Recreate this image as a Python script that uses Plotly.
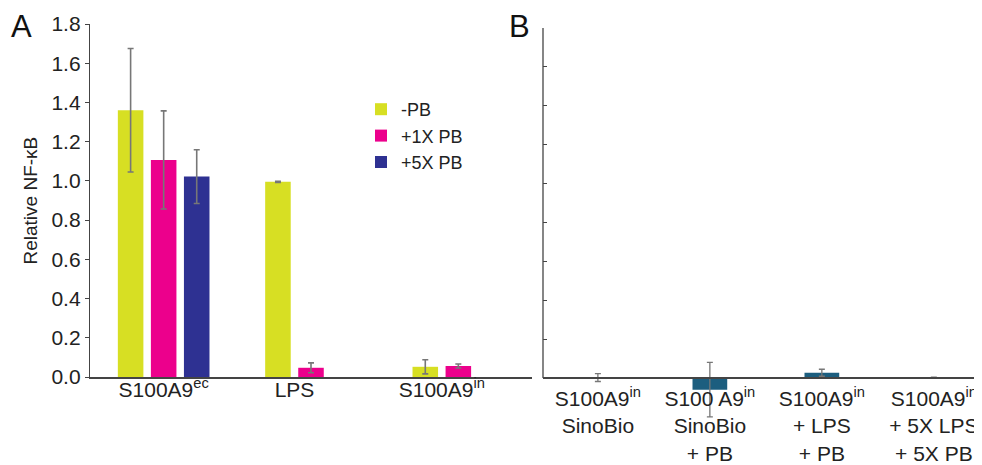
import plotly.graph_objects as go

# ---------------- data ----------------
groups_a = ["S100A9<sup>ec</sup>", "LPS", "S100A9<sup>in</sup>"]
series_names = ["-PB", "+1X PB", "+5X PB"]
minus_pb = [1.36, 0.995, 0.052]
minus_pb_err = [0.315, 0.003, 0.036]
pb_1x = [1.107, 0.047, 0.056]
pb_1x_err = [0.25, 0.025, 0.01]
pb_5x = [1.022, None, None]
pb_5x_err = [0.137, None, None]

cats_b = ["S100A9<sup>in</sup><br>SinoBio",
          "S100 A9<sup>in</sup><br>SinoBio<br>+ PB",
          "S100A9<sup>in</sup><br>+ LPS<br>+ PB",
          "S100A9<sup>in</sup><br>+ 5X LPS<br>+ 5X PB"]
vals_b = [0.002, -0.06, 0.027, 0.001]
errs_b = [0.02, 0.14, 0.018, 0.003]

y_ticks = [0.0, 0.2, 0.4, 0.6, 0.8, 1.0, 1.2, 1.4, 1.6, 1.8]

# ---------------- styles ----------------
colors = ["#d7df23", "#ec008c", "#2e3192"]
color_b = "#1c5e7f"
err_color = "#777777"
axis_color = "#444444"
FONT = "Liberation Sans"
txt = "#222222"

BARGAP = 0.327
BARGROUPGAP = 0.227

series = [(minus_pb, minus_pb_err), (pb_1x, pb_1x_err), (pb_5x, pb_5x_err)]
n = len(series)
slot = (1 - BARGAP) / n
offsets = [(k - (n - 1) / 2) * slot for k in range(n)]
x_idx = list(range(len(groups_a)))
# label sits at the centre of the bars that are present in each group
tickvals_a = []
for g in x_idx:
    present = [offsets[k] for k in range(n) if series[k][0][g] is not None]
    tickvals_a.append(g + sum(present) / len(present))

fig = go.Figure()
for k, (vals, errs) in enumerate(series):
    fig.add_trace(go.Bar(
        x=x_idx, y=vals, name=series_names[k],
        marker=dict(color=colors[k], line=dict(width=0)),
        error_y=dict(type="data", array=errs, visible=True,
                     color=err_color, thickness=1.6, width=3),
        xaxis="x", yaxis="y", showlegend=True))

fig.add_trace(go.Bar(
    x=cats_b, y=vals_b, width=0.31,
    marker=dict(color=color_b, line=dict(width=0)),
    error_y=dict(type="data", array=errs_b, visible=True,
                 color=err_color, thickness=1.3, width=3),
    xaxis="x2", yaxis="y2", showlegend=False))

# page body has an 8px margin: figure starts at (8, 8) in the screenshot
OX, OY = 8, 8
W, H = 982 - OX, 465 - OY
mt, mb, ml, mr = 12, 20, 82, 0
ph = H - mt - mb
pw = W - ml - mr
def fy(py):   # screenshot pixel y -> paper fraction
    return (H - mb - (py - OY)) / ph
def fx(px):   # screenshot pixel x -> paper fraction
    return (px - OX - ml) / pw

plot_bottom = OY + H - mb
b_zero_px, b_top_px = 378, 28
b_scale = (b_zero_px - b_top_px) / y_ticks[-1]
b_min = -(plot_bottom - b_zero_px) / b_scale

fig.update_layout(
    width=W, height=H,
    margin=dict(l=ml, r=mr, t=mt, b=mb, autoexpand=False),
    paper_bgcolor="white", plot_bgcolor="white",
    font=dict(family=FONT, size=21, color=txt),
    barmode="group", bargap=BARGAP, bargroupgap=BARGROUPGAP,
    xaxis=dict(domain=[0, fx(532)], range=[-0.5, 2.5], type="linear",
               tickvals=tickvals_a, ticktext=groups_a, ticks="",
               showline=True, linecolor=axis_color, linewidth=1.5,
               showgrid=False, zeroline=False, anchor="y",
               automargin=False, ticklabelstandoff=-7,
               tickfont=dict(size=21)),
    yaxis=dict(domain=[fy(377), fy(24)], range=[0, 1.8], tickvals=y_ticks,
               tickformat=".1f", ticks="outside", ticklen=4,
               tickcolor=axis_color, showline=True, linecolor=axis_color,
               linewidth=1.3, showgrid=False, zeroline=False, anchor="x",
               automargin=False, tickfont=dict(size=21)),
    xaxis2=dict(domain=[fx(543), 1], range=[-0.49, 3.43], type="category",
                anchor="free", position=fy(b_zero_px), ticks="",
                showline=True, linecolor=axis_color, linewidth=1.5,
                showgrid=False, zeroline=False, automargin=False,
                ticklabelstandoff=2, tickfont=dict(size=21)),
    yaxis2=dict(domain=[0, fy(b_top_px)], range=[b_min, y_ticks[-1]],
                tickvals=y_ticks, showticklabels=False, ticks="inside",
                ticklen=4, tickcolor=axis_color, showline=False,
                showgrid=False, zeroline=False, anchor="x2",
                automargin=False),
    legend=dict(x=fx(361), y=fy(91), xanchor="left", yanchor="top",
                bgcolor="rgba(0,0,0,0)", font=dict(size=18),
                itemwidth=30, traceorder="normal", tracegroupgap=0),
    shapes=[dict(type="line", xref="x2 domain", x0=0, x1=0,
                 yref="y2", y0=0, y1=y_ticks[-1],
                 line=dict(color=axis_color, width=1.3))],
    annotations=[
        dict(text="Relative NF-\u03baB", xref="paper", yref="paper",
             x=fx(30), y=(fy(377) + fy(24)) / 2, textangle=-90,
             showarrow=False, xanchor="center", yanchor="middle",
             font=dict(size=19)),
        dict(text="A", xref="paper", yref="paper", x=fx(21), y=fy(26),
             showarrow=False, xanchor="center", yanchor="middle",
             font=dict(size=31, color="#111")),
        dict(text="B", xref="paper", yref="paper", x=fx(519), y=fy(26),
             showarrow=False, xanchor="center", yanchor="middle",
             font=dict(size=31, color="#111")),
    ],
)

fig.write_html("out.html")
